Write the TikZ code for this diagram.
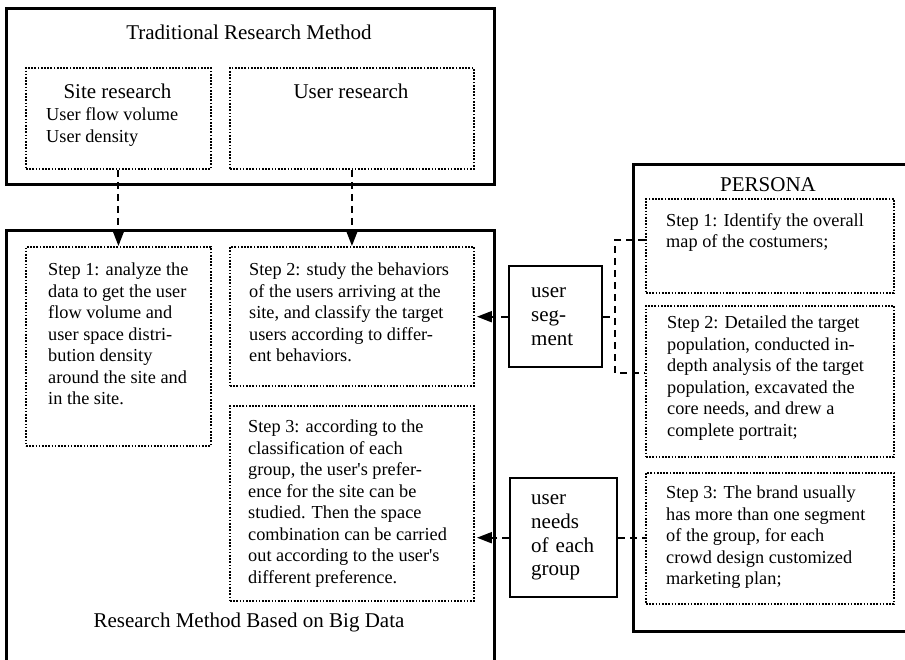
\documentclass[tikz,border=0pt]{standalone}
\usepackage{fontspec}
\setmainfont{Liberation Serif}
\usepackage{tikz}
\usetikzlibrary{arrows.meta, positioning}
\tikzstyle{outerbox}=[rectangle, draw, line width=2.6pt, inner sep=0pt, anchor=north west]
\tikzstyle{stepbox}=[rectangle, draw, line width=1.9pt, dash pattern=on 1.7pt off 1.5pt, inner sep=0pt, anchor=north west]
\tikzstyle{labelbox}=[rectangle, draw, line width=2.4pt, inner ysep=0pt, anchor=north west, align=left, font=\fontsize{21}{23.7}\selectfont]
\tikzstyle{heading}=[inner sep=0pt, font=\fontsize{21}{24}\selectfont]
\tikzstyle{steptext}=[inner sep=0pt, anchor=north west, align=left, font=\fontsize{18.3}{21.5}\selectfont]
\tikzstyle{link}=[line width=2pt, dash pattern=on 7pt off 5pt, -{Triangle[length=15pt, width=11pt]}]
\tikzstyle{bracket}=[line width=2pt, dash pattern=on 7pt off 5pt]

\begin{document}
\begin{tikzpicture}[x=1pt, y=-1pt]
    \useasboundingbox (0,0) rectangle (905,659);
    \clip (0,0) rectangle (905,659);

    % traditional method
    \node[outerbox, minimum width=488pt, minimum height=176pt] (trad) at (5,7) {};
    \node[heading] (tradtitle) at (249,32) {Traditional Research Method};
    \node[stepbox, minimum width=185pt, minimum height=101pt] (site) at (25,67) {};
    \node[heading] (sitetitle) at (117.5,91) {Site research};
    \node[steptext, font=\fontsize{18.3}{22}\selectfont] (sitetext) at (46,107) {User flow volume\\User density};
    \node[stepbox, minimum width=244pt, minimum height=101pt] (user) at (229,67) {};
    \node[heading] (usertitle) at (351,91) {User research};

    % big data method
    \node[outerbox, minimum width=488pt, minimum height=480pt] (bigdata) at (5,229) {};
    \node[stepbox, minimum width=185pt, minimum height=199pt] (s1) at (25,246) {};
    \node[steptext] (s1text) at (48,263) {Step 1: analyze the\\data to get the user\\flow volume and\\user space distri-\\bution density\\around the site and\\in the site.};
    \node[stepbox, minimum width=244pt, minimum height=139pt] (s2) at (229,246) {};
    \node[steptext] (s2text) at (249,263) {Step 2: study the behaviors\\of the users arriving at the\\site, and classify the target\\users according to differ-\\ent behaviors.};
    \node[stepbox, minimum width=244pt, minimum height=195pt] (s3) at (229,405) {};
    \node[steptext] (s3text) at (248,420) {Step 3: according to the\\classification of each\\group, the user\textquotesingle s prefer-\\ence for the site can be\\studied. Then the space\\combination can be carried\\out according to the user\textquotesingle s\\different preference.};
    \node[heading] (bigtitle) at (249,622) {Research Method Based on Big Data};

    % persona
    \node[outerbox, minimum width=275pt, minimum height=467pt] (persona) at (632,163) {};
    \node[heading] (personatitle) at (768,185) {PERSONA};
    \node[stepbox, minimum width=248pt, minimum height=94pt] (ps1) at (645,198) {};
    \node[steptext] (ps1text) at (666,213) {Step 1: Identify the overall\\map of the costumers;};
    \node[stepbox, minimum width=248pt, minimum height=151pt] (ps2) at (645,305) {};
    \node[steptext] (ps2text) at (667,316) {Step 2: Detailed the target\\population, conducted in-\\depth analysis of the target\\population, excavated the\\core needs, and drew a\\complete portrait;};
    \node[stepbox, minimum width=248pt, minimum height=131pt] (ps3) at (645,472) {};
    \node[steptext] (ps3text) at (666,486) {Step 3: The brand usually\\has more than one segment\\of the group, for each\\crowd design customized\\marketing plan;};

    % labels between
    \node[labelbox, inner xsep=22pt, text width=49pt, minimum height=101pt] (seg) at (508,265) {user\\seg-\\ment};
    \node[labelbox, inner xsep=21pt, text width=65pt, minimum height=119pt] (needs) at (509,477) {user\\needs\\of each\\group};

    \coordinate (brtop) at (615,240);
    \coordinate (brbot) at (615,373);

    \draw[link] (site.south) -- (s1.north);
    \draw[link] (user.south) -- (s2.north);
    \draw[link] (seg.west) -- ([xshift=2pt]s2.east |- seg.west);
    \draw[link] (needs.west) -- ([xshift=2pt]s3.east |- needs.west);
    \draw[bracket] (brtop -| ps1.west) -- (brtop) -- (brbot) -- (brbot -| ps2.west);
    \draw[bracket] (seg.east) -- (seg.east -| brtop);
    \draw[bracket] (needs.east) -- (needs.east -| ps3.west);
\end{tikzpicture}
\end{document}
